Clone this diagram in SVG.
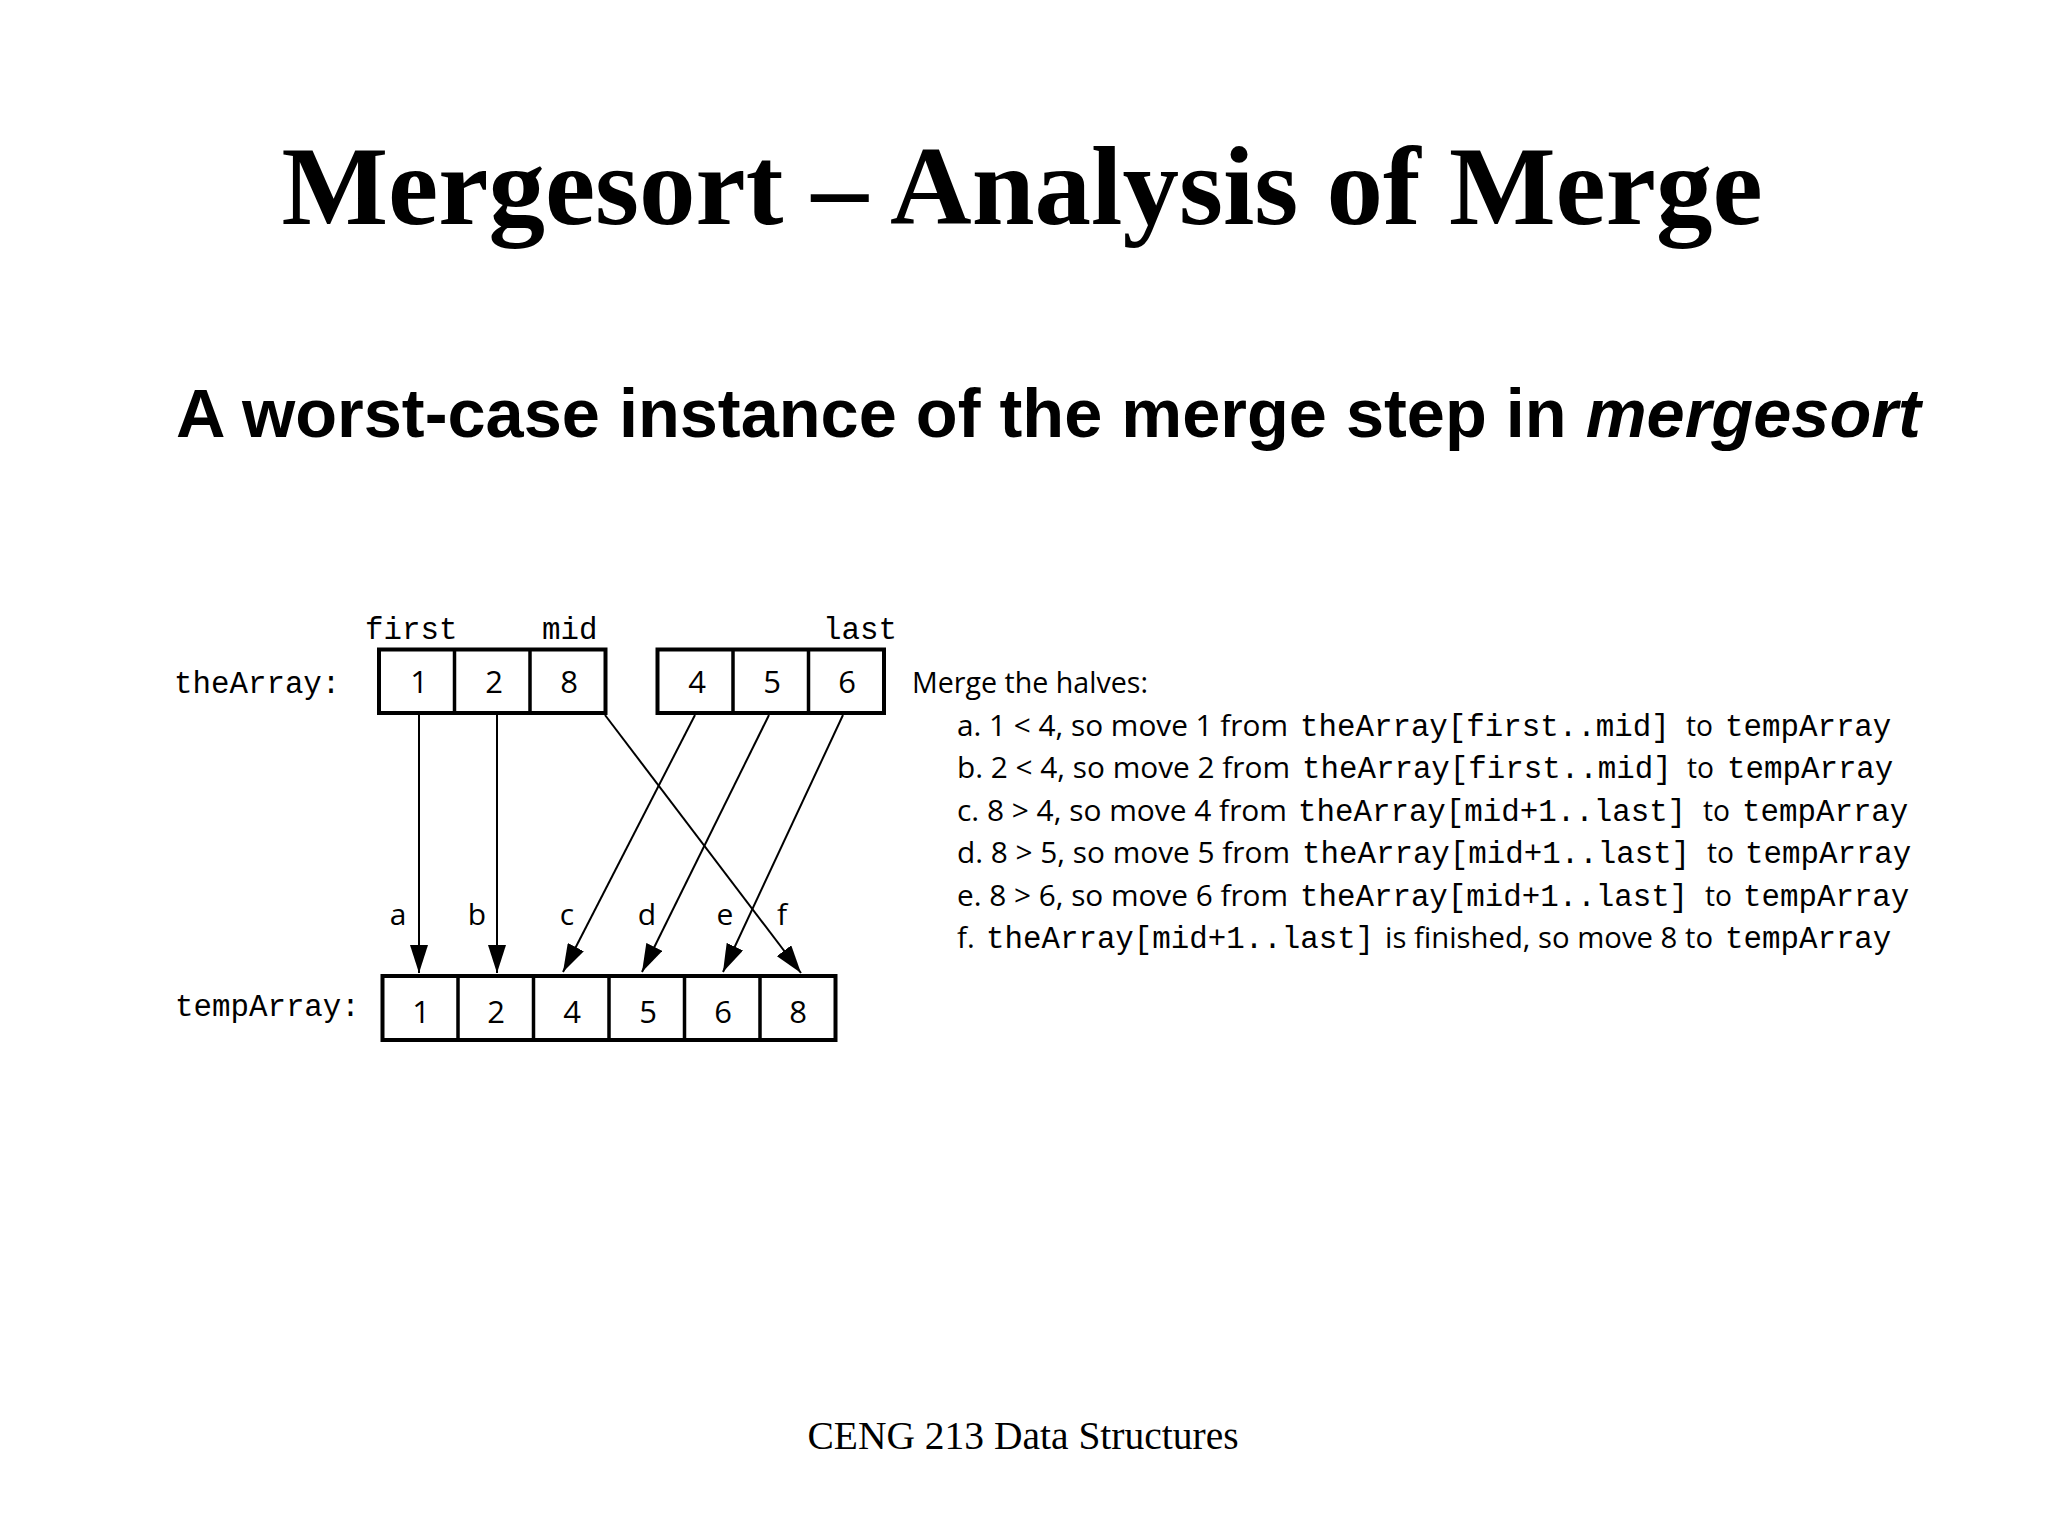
<svg xmlns="http://www.w3.org/2000/svg" width="2048" height="1536" viewBox="0 0 2048 1536">
<defs>
<style>
.title{font-family:"Liberation Serif","Times New Roman",serif;font-weight:bold;font-size:113px;fill:#000}
.sub{font-family:"Liberation Sans",Arial,sans-serif;font-weight:bold;font-size:68.5px;fill:#000}
.foot{font-family:"Liberation Serif","Times New Roman",serif;font-size:39.5px;fill:#000}
.mono{font-family:"Liberation Mono","Courier New",monospace;font-size:30.8px;fill:#000}
.sans{font-family:"Open Sans","Liberation Sans",Arial,sans-serif;font-size:29.5px;fill:#000}
.num{font-family:"Open Sans","Liberation Sans",Arial,sans-serif;font-size:31px;fill:#000;text-anchor:middle}
.lbl{font-family:"Open Sans","Liberation Sans",Arial,sans-serif;font-size:30px;fill:#000;text-anchor:middle}
.box{fill:none;stroke:#000;stroke-width:4}
.div{stroke:#000;stroke-width:3.5}
.arr{stroke:#000;stroke-width:2;fill:none;marker-end:url(#ah)}
</style>
<marker id="ah" markerUnits="userSpaceOnUse" markerWidth="28" markerHeight="18" refX="28" refY="9" orient="auto"><path d="M0,0 L28,9 L0,18 z" fill="#000"/></marker>
</defs>
<rect width="2048" height="1536" fill="#fff"/>

<g id="title">
<text class="title" x="1022" y="224" text-anchor="middle">Mergesort – Analysis of Merge</text>
</g>
<g id="subtitle">
<text class="sub" x="176" y="437">A worst-case instance of the merge step in <tspan font-style="italic">mergesort</tspan></text>
</g>

<g id="labels">
<text class="mono" x="174" y="693">theArray:</text>
<text class="mono" x="175" y="1016">tempArray:</text>
<text class="mono" x="365" y="639">first</text>
<text class="mono" x="542" y="639">mid</text>
<text class="mono" x="823" y="639">last</text>
</g>

<g id="theArray-left">
<rect class="box" x="379" y="649.5" width="226.5" height="63.5"/>
<line class="div" x1="454.5" y1="649.5" x2="454.5" y2="713"/>
<line class="div" x1="530" y1="649.5" x2="530" y2="713"/>
<text class="num" x="419" y="693">1</text>
<text class="num" x="494" y="693">2</text>
<text class="num" x="569" y="693">8</text>
</g>

<g id="theArray-right">
<rect class="box" x="657.5" y="649.5" width="226.5" height="63.5"/>
<line class="div" x1="733" y1="649.5" x2="733" y2="713"/>
<line class="div" x1="808.5" y1="649.5" x2="808.5" y2="713"/>
<text class="num" x="697" y="693">4</text>
<text class="num" x="772" y="693">5</text>
<text class="num" x="847" y="693">6</text>
</g>

<g id="tempArray">
<rect class="box" x="382.5" y="976" width="453" height="64"/>
<line class="div" x1="458" y1="976" x2="458" y2="1040"/>
<line class="div" x1="533.5" y1="976" x2="533.5" y2="1040"/>
<line class="div" x1="609" y1="976" x2="609" y2="1040"/>
<line class="div" x1="684.5" y1="976" x2="684.5" y2="1040"/>
<line class="div" x1="760" y1="976" x2="760" y2="1040"/>
<text class="num" x="421" y="1022.5">1</text>
<text class="num" x="496" y="1022.5">2</text>
<text class="num" x="572" y="1022.5">4</text>
<text class="num" x="648" y="1022.5">5</text>
<text class="num" x="723" y="1022.5">6</text>
<text class="num" x="798" y="1022.5">8</text>
</g>

<g id="connectors">
<line class="arr" x1="419" y1="715" x2="419" y2="973"/>
<line class="arr" x1="497" y1="715" x2="497" y2="973"/>
<line class="arr" x1="695" y1="715" x2="563" y2="972"/>
<line class="arr" x1="769" y1="715" x2="642" y2="972"/>
<line class="arr" x1="843" y1="715" x2="723" y2="972"/>
<line class="arr" x1="605" y1="715" x2="801" y2="973"/>
<text class="lbl" x="398" y="925">a</text>
<text class="lbl" x="477" y="925">b</text>
<text class="lbl" x="567" y="925">c</text>
<text class="lbl" x="647" y="925">d</text>
<text class="lbl" x="725" y="925">e</text>
<text class="lbl" x="782" y="925">f</text>
</g>

<g id="steps">
<text class="sans" x="912" y="693" textLength="236" lengthAdjust="spacingAndGlyphs">Merge the halves:</text>

<text class="sans" x="957" y="735.5" textLength="331" lengthAdjust="spacingAndGlyphs">a. 1 &lt; 4, so move 1 from</text>
<text class="mono" x="1300" y="735.5">theArray[first..mid]</text>
<text class="sans" x="1686" y="735.5" textLength="27" lengthAdjust="spacingAndGlyphs">to</text>
<text class="mono" x="1725" y="735.5">tempArray</text>

<text class="sans" x="957" y="778" textLength="333" lengthAdjust="spacingAndGlyphs">b. 2 &lt; 4, so move 2 from</text>
<text class="mono" x="1302" y="778">theArray[first..mid]</text>
<text class="sans" x="1687" y="778" textLength="27" lengthAdjust="spacingAndGlyphs">to</text>
<text class="mono" x="1727" y="778">tempArray</text>

<text class="sans" x="957" y="820.5" textLength="330" lengthAdjust="spacingAndGlyphs">c. 8 &gt; 4, so move 4 from</text>
<text class="mono" x="1298" y="820.5">theArray[mid+1..last]</text>
<text class="sans" x="1703" y="820.5" textLength="27" lengthAdjust="spacingAndGlyphs">to</text>
<text class="mono" x="1742" y="820.5">tempArray</text>

<text class="sans" x="957" y="863" textLength="333" lengthAdjust="spacingAndGlyphs">d. 8 &gt; 5, so move 5 from</text>
<text class="mono" x="1302" y="863">theArray[mid+1..last]</text>
<text class="sans" x="1707" y="863" textLength="27" lengthAdjust="spacingAndGlyphs">to</text>
<text class="mono" x="1745" y="863">tempArray</text>

<text class="sans" x="957" y="905.5" textLength="331" lengthAdjust="spacingAndGlyphs">e. 8 &gt; 6, so move 6 from</text>
<text class="mono" x="1300" y="905.5">theArray[mid+1..last]</text>
<text class="sans" x="1705" y="905.5" textLength="27" lengthAdjust="spacingAndGlyphs">to</text>
<text class="mono" x="1743" y="905.5">tempArray</text>

<text class="sans" x="957" y="948">f.</text>
<text class="mono" x="986" y="948">theArray[mid+1..last]</text>
<text class="sans" x="1385" y="948" textLength="328" lengthAdjust="spacingAndGlyphs">is finished, so move 8 to</text>
<text class="mono" x="1725" y="948">tempArray</text>
</g>

<g id="footer">
<text class="foot" x="1023" y="1449" text-anchor="middle">CENG 213 Data Structures</text>
</g>
</svg>
